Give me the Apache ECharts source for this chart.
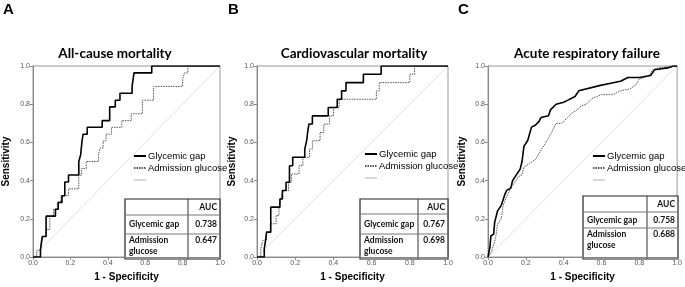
<!DOCTYPE html>
<html>
<head>
<meta charset="utf-8">
<script src="https://cdn.jsdelivr.net/npm/echarts@6/dist/echarts.min.js"></script>
<style>
html, body { margin: 0; padding: 0; background: #fff; }
#chart { width: 685px; height: 287px; }
</style>
</head>
<body>
<div id="chart"></div>
<script>
// panel texts
const panelLetters = ['A', 'B', 'C']
const panelTitles = ['All-cause mortality', 'Cardiovascular mortality', 'Acute respiratory failure']
const aucGap = ['0.738', '0.767', '0.758']
const aucGlucose = ['0.647', '0.698', '0.688']
const tickValues = [0, 0.2, 0.4, 0.6, 0.8, 1.0]

// ROC points [1 - specificity, sensitivity]
const gapA = [[0, 0], [0.04, 0.036], [0.05, 0.107], [0.07, 0.214], [0.12, 0.25], [0.135, 0.286], [0.155, 0.321],
  [0.17, 0.393], [0.19, 0.429], [0.245, 0.5], [0.255, 0.536], [0.262, 0.607], [0.268, 0.643], [0.29, 0.679],
  [0.37, 0.714], [0.41, 0.786], [0.44, 0.821], [0.465, 0.857], [0.53, 0.893], [0.54, 0.964], [0.635, 1], [1, 1]]
const glucoseA = [[0, 0], [0.02, 0.036], [0.04, 0.071], [0.05, 0.107], [0.07, 0.143], [0.09, 0.214], [0.11, 0.25],
  [0.13, 0.286], [0.15, 0.321], [0.19, 0.357], [0.245, 0.429], [0.26, 0.464], [0.285, 0.5], [0.35, 0.536],
  [0.36, 0.571], [0.375, 0.607], [0.39, 0.643], [0.42, 0.679], [0.475, 0.714], [0.525, 0.75], [0.585, 0.821],
  [0.645, 0.893], [0.8, 0.929], [0.81, 0.964], [0.828, 1], [1, 1]]
const gapB = [[0, 0], [0.038, 0.043], [0.045, 0.087], [0.05, 0.13], [0.072, 0.261], [0.12, 0.304], [0.133, 0.348],
  [0.152, 0.391], [0.17, 0.478], [0.187, 0.522], [0.25, 0.565], [0.26, 0.609], [0.265, 0.652], [0.272, 0.696],
  [0.29, 0.739], [0.373, 0.783], [0.42, 0.826], [0.443, 0.87], [0.466, 0.913], [0.557, 0.957], [0.65, 1], [1, 1]]
const glucoseB = [[0, 0], [0.02, 0.043], [0.03, 0.087], [0.05, 0.13], [0.07, 0.174], [0.1, 0.217], [0.115, 0.261],
  [0.125, 0.304], [0.135, 0.348], [0.165, 0.391], [0.18, 0.435], [0.22, 0.478], [0.24, 0.522], [0.275, 0.565],
  [0.29, 0.609], [0.33, 0.652], [0.35, 0.696], [0.38, 0.739], [0.4, 0.783], [0.43, 0.826], [0.625, 0.87],
  [0.64, 0.913], [0.8, 0.957], [0.825, 1], [1, 1]]
const gapC = [[0, 0], [0.01, 0.05], [0.015, 0.11], [0.03, 0.12], [0.035, 0.18], [0.05, 0.24], [0.07, 0.27],
  [0.08, 0.3], [0.09, 0.33], [0.1, 0.35], [0.12, 0.36], [0.13, 0.4], [0.15, 0.43], [0.17, 0.46], [0.18, 0.5],
  [0.19, 0.58], [0.21, 0.61], [0.23, 0.68], [0.25, 0.69], [0.27, 0.71], [0.28, 0.73], [0.32, 0.74], [0.33, 0.77],
  [0.36, 0.8], [0.4, 0.81], [0.42, 0.82], [0.46, 0.84], [0.48, 0.87], [0.6, 0.9], [0.65, 0.91], [0.7, 0.92],
  [0.74, 0.94], [0.8, 0.94], [0.86, 0.95], [0.88, 0.98], [0.95, 0.99], [0.98, 1], [1, 1]]
const glucoseC = [[0, 0], [0.02, 0.03], [0.04, 0.1], [0.05, 0.17], [0.07, 0.2], [0.08, 0.27], [0.1, 0.32],
  [0.12, 0.36], [0.14, 0.39], [0.16, 0.42], [0.18, 0.43], [0.19, 0.47], [0.22, 0.49], [0.25, 0.51], [0.28, 0.56],
  [0.3, 0.59], [0.33, 0.64], [0.36, 0.7], [0.39, 0.7], [0.42, 0.73], [0.44, 0.75], [0.47, 0.77], [0.49, 0.79],
  [0.52, 0.8], [0.55, 0.83], [0.6, 0.85], [0.66, 0.85], [0.7, 0.87], [0.75, 0.88], [0.78, 0.9], [0.8, 0.93],
  [0.85, 0.95], [0.87, 0.98], [0.9, 0.99], [1, 1]]
const diagonal = [[0, 0], [1, 1]]

const gapSeries = [gapA, gapB, gapC]
const glucoseSeries = [glucoseA, glucoseB, glucoseC]

// layout
const panels = [
  { left: 27, width: 193, titleX: 110, letterX: 3, legendX: 133, legendY: 151, nameGap: 22,
    table: { x0: 125, xc: 188, y0: 199, y1: 215, y2: 234 } },
  { left: 257, width: 191, titleX: 349, letterX: 228, legendX: 364, legendY: 149, nameGap: 20,
    table: { x0: 360, xc: 418, y0: 199, y1: 214, y2: 234 } },
  { left: 488, width: 190, titleX: 582, letterX: 458, legendX: 592, legendY: 151, nameGap: 21,
    table: { x0: 583, xc: 647, y0: 196, y1: 212, y2: 228 } }
]
const plotTop = 66
const plotHeight = 193
const bold = 'Lato'

function tableGraphic(p, i) {
  const t = p.table
  const x1 = p.left + p.width
  const yb = plotTop + plotHeight
  const els = []
  els.push({ type: 'rect', shape: { x: t.x0, y: t.y0, width: x1 - t.x0, height: yb - t.y0 },
    style: { fill: '#fff', stroke: '#222', lineWidth: 1.2 } })
  els.push({ type: 'line', shape: { x1: t.xc, y1: t.y0, x2: t.xc, y2: yb }, style: { stroke: '#333', lineWidth: 1 } })
  els.push({ type: 'line', shape: { x1: t.x0, y1: t.y1, x2: x1, y2: t.y1 }, style: { stroke: '#777', lineWidth: 1 } })
  els.push({ type: 'line', shape: { x1: t.x0, y1: t.y2, x2: x1, y2: t.y2 }, style: { stroke: '#777', lineWidth: 1 } })
  const font = 'bold 8.5px ' + bold
  const valFont = 'bold 8.5px ' + bold
  els.push({ type: 'text', style: { text: 'AUC', x: x1 - 3, y: (t.y0 + t.y1) / 2 + 0.5, align: 'right', verticalAlign: 'middle', font: font, fill: '#111' } })
  els.push({ type: 'text', style: { text: 'Glycemic gap', x: t.x0 + 4, y: (t.y1 + t.y2) / 2, verticalAlign: 'middle', font: font, fill: '#111' } })
  els.push({ type: 'text', style: { text: aucGap[i], x: x1 - 3, y: (t.y1 + t.y2) / 2, align: 'right', verticalAlign: 'middle', font: valFont, fill: '#111' } })
  els.push({ type: 'text', style: { text: 'Admission', x: t.x0 + 4, y: t.y2 + 6.5, verticalAlign: 'middle', font: font, fill: '#111' } })
  els.push({ type: 'text', style: { text: 'glucose', x: t.x0 + 4, y: t.y2 + 17, verticalAlign: 'middle', font: font, fill: '#111' } })
  els.push({ type: 'text', style: { text: aucGlucose[i], x: x1 - 3, y: t.y2 + 6.5, align: 'right', verticalAlign: 'middle', font: valFont, fill: '#111' } })
  return els
}

const chart = echarts.init(document.getElementById('chart'))

const grid = []
const xAxis = []
const yAxis = []
const series = []
const title = []
const legend = []
let graphic = []

panels.forEach((p, i) => {
  grid.push({ left: p.left, top: plotTop, width: p.width, height: plotHeight, show: true,
    borderColor: '#999', borderWidth: 1, containLabel: false })
  const axisCommon = {
    type: 'value', gridIndex: i, min: 0, max: 1, interval: 0.2,
    axisLine: { show: true, lineStyle: { color: '#888', width: 1 } },
    axisTick: { show: true, length: 3, lineStyle: { color: '#888' } },
    axisLabel: { fontSize: 7, color: '#555', fontFamily: 'Liberation Sans', margin: 3,
      formatter: v => tickValues.includes(+v.toFixed(1)) ? v.toFixed(1) : '' },
    splitLine: { show: false },
    nameLocation: 'middle',
    nameTextStyle: { fontWeight: 'bold', fontSize: 10, fontFamily: 'Liberation Sans', color: '#000' }
  }
  xAxis.push(Object.assign({}, axisCommon, { name: '1 - Specificity', nameGap: 15 }))
  yAxis.push(Object.assign({}, axisCommon, { name: 'Sensitivity', nameGap: p.nameGap }))

  series.push({ name: 'Glycemic gap', type: 'line', xAxisIndex: i, yAxisIndex: i, data: gapSeries[i],
    step: i < 2 ? 'end' : false, symbol: 'none', color: '#000',
    lineStyle: { color: '#000', width: 1.6 }, z: 4, silent: true })
  series.push({ name: 'Admission glucose', type: 'line', xAxisIndex: i, yAxisIndex: i, data: glucoseSeries[i],
    step: i < 2 ? 'end' : false, symbol: 'none', color: '#555',
    lineStyle: { color: '#555', width: 1, type: [1.5, 1] }, z: 3, silent: true })
  series.push({ name: ' ', type: 'line', xAxisIndex: i, yAxisIndex: i, data: diagonal,
    symbol: 'none', color: '#ddd', lineStyle: { color: '#d8d8d8', width: 0.8 }, z: 2, silent: true })

  title.push({ text: panelTitles[i], left: p.titleX, top: 42, textAlign: 'center',
    textStyle: { fontFamily: bold, fontWeight: 'bold', fontSize: 13.5, color: '#000' } })
  legend.push({ orient: 'vertical', left: p.legendX, top: p.legendY, itemWidth: 12, itemHeight: 10, itemGap: 2,
    selectedMode: false, padding: 0, data: ['Glycemic gap', 'Admission glucose', ' '],
    itemStyle: { opacity: 0 },
    textStyle: { fontSize: 9.5, fontFamily: 'Liberation Sans', color: '#000', padding: [0, 0, 0, -3] } })

  graphic.push({ type: 'text', left: p.letterX, top: 2,
    style: { text: panelLetters[i], font: 'bold 15px Liberation Sans', fill: '#000' } })
  graphic = graphic.concat(tableGraphic(p, i))
})

chart.setOption({
  animation: false,
  backgroundColor: '#fff',
  title: title,
  legend: legend,
  grid: grid,
  xAxis: xAxis,
  yAxis: yAxis,
  series: series,
  graphic: graphic
})
</script>
</body>
</html>
